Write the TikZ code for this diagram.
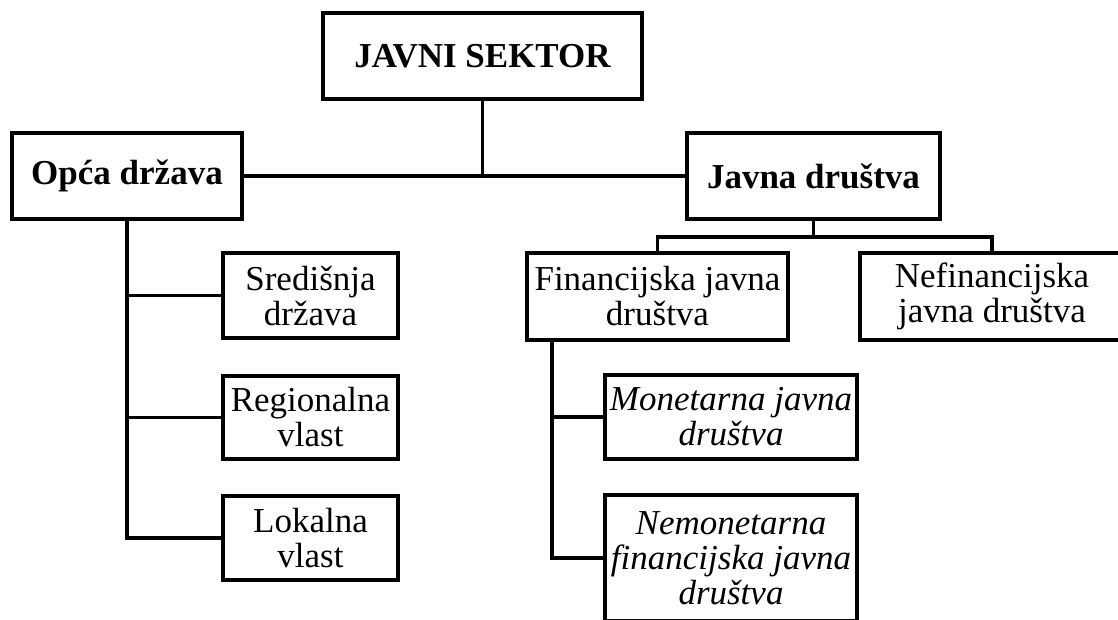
\documentclass[tikz,border=0pt]{standalone}
\usepackage{fontspec}
\setmainfont{Liberation Serif}
\begin{document}
\begin{tikzpicture}[x=1pt,y=-1pt,
  box/.style={draw, line width=3.5pt, inner sep=0pt, align=center, font=\fontsize{35}{35}\selectfont},
  boldbox/.style={box, font=\fontsize{35}{35}\selectfont\bfseries},
  itbox/.style={box, font=\fontsize{35}{35}\selectfont\itshape},
  conn/.style={line width=3.5pt}]
\useasboundingbox (0,0) rectangle (1118,620);
\clip (0,0) rectangle (1118,620);
\fill[white] (0,0) rectangle (1118,620);
% top level
\node[boldbox, minimum width=319pt, minimum height=86pt] (js) at (482.5,56) {JAVNI SEKTOR};
\node[boldbox, minimum width=230pt, minimum height=86pt] (og) at (127,176) {Opća država};
\node[boldbox, minimum width=253pt, minimum height=86pt] (jd) at (813.5,176) {Javna društva};
% general government
\node[box, minimum width=175pt, minimum height=85pt] (sd) at (310.5,295.5) {Središnja\\država};
\node[box, minimum width=175pt, minimum height=83pt] (rv) at (310.5,417.5) {Regionalna\\vlast};
\node[box, minimum width=175pt, minimum height=84pt] (lv) at (310.5,538) {Lokalna\\vlast};
% public corporations
\node[box, minimum width=261pt, minimum height=87pt] (fj) at (657.5,296.5) {Financijska javna\\društva};
\node[box, minimum width=264pt, minimum height=87pt] (nf) at (992,296.5) {Nefinancijska\\javna društva};
\node[itbox, minimum width=252pt, minimum height=84pt] (mj) at (731,417) {Monetarna javna\\društva};
\node[itbox, minimum width=252pt, minimum height=126pt] (nm) at (731,558) {Nemonetarna\\financijska javna\\društva};
% connectors
\draw[conn] (js.south) -- (js.south |- og.east);
\draw[conn] (og.east) -- (jd.west);
\coordinate (jdj) at (813.5,237);
\draw[conn] (jd.south) -- (jdj);
\draw[conn] (fj.north) -- (fj.north |- jdj) -| (nf.north);
\draw[conn] (og.south) |- (lv.west);
\draw[conn] (og.south |- sd.west) -- (sd.west);
\draw[conn] (og.south |- rv.west) -- (rv.west);
\coordinate (ft) at (552,340);
\draw[conn] (ft) |- (nm.west);
\draw[conn] (ft |- mj.west) -- (mj.west);
\end{tikzpicture}
\end{document}
